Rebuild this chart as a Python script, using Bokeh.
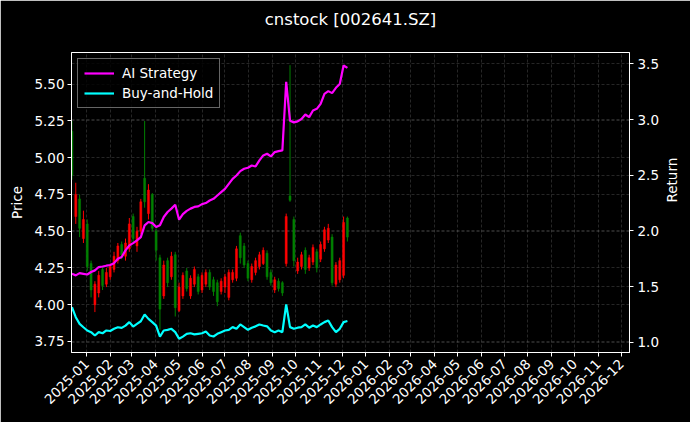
import pandas as pd
from bokeh.plotting import figure
from bokeh.models import (Range1d, LinearAxis, FixedTicker, NumeralTickFormatter, Title,
                          DatetimeTickFormatter, Grid, Legend, LegendItem, ColumnDataSource)
from bokeh.embed import file_html
from bokeh.resources import INLINE
import math

# ---------------- data ----------------
dates = pd.date_range("2024-12-13", periods=73, freq="5D")

open_ = [5.18, 4.60, 4.72, 4.45, 4.55, 4.28, 4.00, 4.08, 4.24, 4.14,
         4.19, 4.24, 4.30, 4.41, 4.33, 4.38, 4.60, 4.40, 4.50, 4.86,
         4.62, 4.75, 4.50, 4.32, 4.06, 4.30, 4.19, 4.34, 3.96, 4.06,
         4.23, 4.06, 4.14, 4.19, 4.10, 4.14, 4.22, 4.17, 4.15, 4.09,
         4.12, 4.05, 4.17, 4.18, 4.47, 4.40, 4.28, 4.17, 4.22, 4.26,
         4.28, 4.35, 4.22, 4.10, 4.16, 4.15, 4.28, 4.74, 4.58, 4.23,
         4.26, 4.37, 4.25, 4.29, 4.36, 4.31, 4.38, 4.44, 4.46, 4.14,
         4.17, 4.20, 4.59]
high = [5.25, 4.83, 4.75, 4.64, 4.58, 4.30, 4.16, 4.23, 4.26, 4.25,
        4.28, 4.36, 4.42, 4.43, 4.45, 4.59, 4.62, 4.53, 4.72, 5.25,
        4.82, 4.76, 4.52, 4.34, 4.30, 4.32, 4.36, 4.36, 4.15, 4.22,
        4.25, 4.20, 4.26, 4.21, 4.22, 4.24, 4.24, 4.19, 4.17, 4.18,
        4.21, 4.24, 4.24, 4.40, 4.49, 4.42, 4.30, 4.28, 4.32, 4.36,
        4.39, 4.37, 4.24, 4.19, 4.18, 4.16, 4.62, 5.63, 4.60, 4.32,
        4.36, 4.39, 4.34, 4.41, 4.38, 4.43, 4.53, 4.55, 4.48, 4.29,
        4.32, 4.60, 4.60]
low = [4.85, 4.55, 4.46, 4.42, 4.23, 4.05, 3.95, 4.05, 4.10, 4.12,
       4.17, 4.22, 4.28, 4.31, 4.30, 4.36, 4.42, 4.36, 4.48, 4.66,
       4.58, 4.50, 4.30, 3.83, 4.04, 4.12, 4.17, 3.92, 3.95, 4.04,
       4.09, 4.04, 4.12, 4.07, 4.08, 4.12, 4.10, 4.06, 3.99, 4.07,
       4.08, 4.03, 4.15, 4.16, 4.28, 4.25, 4.16, 4.15, 4.20, 4.24,
       4.27, 4.17, 4.13, 4.08, 4.09, 4.06, 4.26, 4.70, 4.26, 4.21,
       4.24, 4.21, 4.23, 4.27, 4.22, 4.29, 4.36, 4.42, 4.13, 4.12,
       4.15, 4.18, 4.43]
close = [4.88, 4.75, 4.52, 4.58, 4.26, 4.10, 4.14, 4.20, 4.13, 4.22,
         4.26, 4.33, 4.40, 4.34, 4.42, 4.55, 4.45, 4.50, 4.70, 4.70,
         4.78, 4.52, 4.37, 3.97, 4.27, 4.15, 4.33, 3.98, 4.12, 4.20,
         4.11, 4.18, 4.24, 4.09, 4.20, 4.22, 4.12, 4.09, 4.02, 4.16,
         4.19, 4.22, 4.22, 4.38, 4.32, 4.27, 4.18, 4.26, 4.30, 4.34,
         4.37, 4.19, 4.15, 4.17, 4.11, 4.08, 4.60, 4.71, 4.30, 4.29,
         4.34, 4.24, 4.32, 4.39, 4.25, 4.41, 4.51, 4.52, 4.15, 4.27,
         4.30, 4.56, 4.46]

ai_strategy = [1.614, 1.600, 1.620, 1.614, 1.608, 1.630, 1.645, 1.675, 1.680, 1.687,
               1.693, 1.710, 1.750, 1.765, 1.825, 1.870, 1.890, 1.914, 1.944, 2.050,
               2.080, 2.070, 2.034, 2.050, 2.125, 2.170, 2.200, 2.235, 2.100, 2.150,
               2.180, 2.200, 2.215, 2.220, 2.240, 2.250, 2.273, 2.288, 2.318, 2.348,
               2.378, 2.423, 2.468, 2.498, 2.537, 2.558, 2.567, 2.588, 2.579, 2.633,
               2.678, 2.693, 2.669, 2.708, 2.717, 2.723, 3.340, 2.990, 2.975, 2.984,
               3.005, 3.046, 3.022, 3.082, 3.097, 3.142, 3.232, 3.256, 3.238, 3.286,
               3.320, 3.486, 3.465]
buy_hold = [1.314, 1.224, 1.164, 1.134, 1.105, 1.090, 1.060, 1.090, 1.080, 1.105,
            1.100, 1.120, 1.134, 1.128, 1.149, 1.180, 1.140, 1.164, 1.188, 1.248,
            1.209, 1.180, 1.149, 1.050, 1.105, 1.110, 1.120, 1.090, 1.030, 1.050,
            1.075, 1.080, 1.070, 1.075, 1.080, 1.095, 1.060, 1.051, 1.075, 1.090,
            1.105, 1.111, 1.135, 1.120, 1.159, 1.135, 1.111, 1.130, 1.142, 1.159,
            1.150, 1.142, 1.105, 1.090, 1.105, 1.090, 1.339, 1.135, 1.120, 1.130,
            1.135, 1.159, 1.130, 1.150, 1.135, 1.159, 1.180, 1.195, 1.135, 1.090,
            1.120, 1.180, 1.190]

month_ticks = pd.date_range("2025-01-01", "2026-12-01", freq="MS")
price_ticks = [3.75, 4.00, 4.25, 4.50, 4.75, 5.00, 5.25, 5.50]
return_ticks = [1.0, 1.5, 2.0, 2.5, 3.0, 3.5]
title_text = "cnstock [002641.SZ]"

# ---------------- figure ----------------
FONT = "DejaVu Sans"
up_color, down_color = "#ff0000", "#008000"
colors = [up_color if c >= o else down_color for o, c in zip(open_, close)]

src = ColumnDataSource(dict(
    date=dates, open=open_, high=high, low=low, close=close,
    top=[max(o, c) for o, c in zip(open_, close)],
    bottom=[min(o, c) for o, c in zip(open_, close)],
    color=colors, ai=ai_strategy, bh=buy_hold,
))

p = figure(width=690, height=422, x_axis_type="datetime",
           x_range=Range1d(pd.Timestamp("2024-12-12 10:00"), pd.Timestamp("2026-12-11 16:00")),
           y_range=Range1d(3.675, 5.716),
           output_backend="svg", toolbar_location=None,
           min_border_left=71, min_border_right=61, min_border_top=52, min_border_bottom=70)
p.extra_y_ranges = {"ret": Range1d(0.907, 3.603)}

p.background_fill_color = "black"
p.border_fill_color = "black"
p.outline_line_color = "white"
p.outline_line_width = 1

# title: a small spacer title next to the frame, then the real title above it
p.title.text = ""
spacer = Title(text=" ", text_font_size="2px", standoff=20)
main_title = Title(text=title_text, align="center", text_color="white", text_font=FONT,
                   text_font_style="normal", text_font_size="16.5px", standoff=0)
p.add_layout(spacer, "above")
p.add_layout(main_title, "above")

# candles
day_ms = 86400000
p.segment(x0="date", y0="low", x1="date", y1="high", color="color", line_width=1, source=src)
p.vbar(x="date", top="top", bottom="bottom", width=2.6 * day_ms, fill_color="color",
       line_color="color", line_width=0.5, source=src)

# return lines
r_ai = p.line(x="date", y="ai", color="#ff00ff", line_width=2.2, y_range_name="ret", source=src)
r_bh = p.line(x="date", y="bh", color="#00ffff", line_width=2.2, y_range_name="ret", source=src)

# axes
def style_axis(ax):
    ax.axis_line_color = "white"
    ax.major_tick_line_color = "white"
    ax.minor_tick_line_color = None
    ax.major_tick_out = 4
    ax.major_tick_in = 0
    ax.major_label_text_color = "white"
    ax.major_label_text_font = FONT
    ax.major_label_text_font_size = "13.5px"
    ax.axis_label_text_color = "white"
    ax.axis_label_text_font = FONT
    ax.axis_label_text_font_size = "13.5px"
    ax.axis_label_text_font_style = "normal"

xa = p.xaxis[0]
style_axis(xa)
xa.ticker = FixedTicker(ticks=[t.value // 10**6 for t in month_ticks])
fmt = "%Y-%m"
xa.formatter = DatetimeTickFormatter(days=fmt, months=fmt, years=fmt, hours=fmt,
                                     hourmin=fmt, minutes=fmt, minsec=fmt, seconds=fmt,
                                     milliseconds=fmt, microseconds=fmt)
xa.major_label_orientation = math.pi / 4
xa.major_label_standoff = 5

ya = p.yaxis[0]
style_axis(ya)
ya.axis_label = "Price"
ya.ticker = FixedTicker(ticks=price_ticks)
ya.formatter = NumeralTickFormatter(format="0.00")
ya.major_label_standoff = 3
ya.axis_label_standoff = 6

ra = LinearAxis(y_range_name="ret", axis_label="Return")
style_axis(ra)
ra.ticker = FixedTicker(ticks=return_ticks)
ra.formatter = NumeralTickFormatter(format="0.0")
ra.major_label_standoff = 4
ra.axis_label_standoff = 10
if "axis_label_orientation" in ra.properties():
    ra.axis_label_orientation = math.pi / 2
p.add_layout(ra, "right")

# grids
for g in p.grid:
    g.grid_line_color = "#808080"
    g.grid_line_alpha = 0.5
    g.grid_line_dash = "3 2"
    g.grid_line_width = 0.6
g2 = Grid(dimension=1, ticker=FixedTicker(ticks=return_ticks), y_range_name="ret",
          grid_line_color="#808080", grid_line_alpha=0.5, grid_line_dash="3 2",
          grid_line_width=0.6)
p.add_layout(g2)

legend = Legend(items=[LegendItem(label="AI Strategy", renderers=[r_ai]),
                       LegendItem(label="Buy-and-Hold", renderers=[r_bh])],
                location="top_left")
legend.background_fill_color = "black"
legend.background_fill_alpha = 0.8
legend.border_line_color = "#cccccc"
legend.border_line_width = 1
legend.label_text_color = "white"
legend.label_text_font = FONT
legend.label_text_font_size = "13.5px"
legend.glyph_width = 30
legend.glyph_height = 16
legend.label_standoff = 8
legend.label_height = 16
legend.spacing = 4
legend.padding = 6
legend.margin = 6
p.add_layout(legend)

open("out.html", "w").write(file_html(p, INLINE))
